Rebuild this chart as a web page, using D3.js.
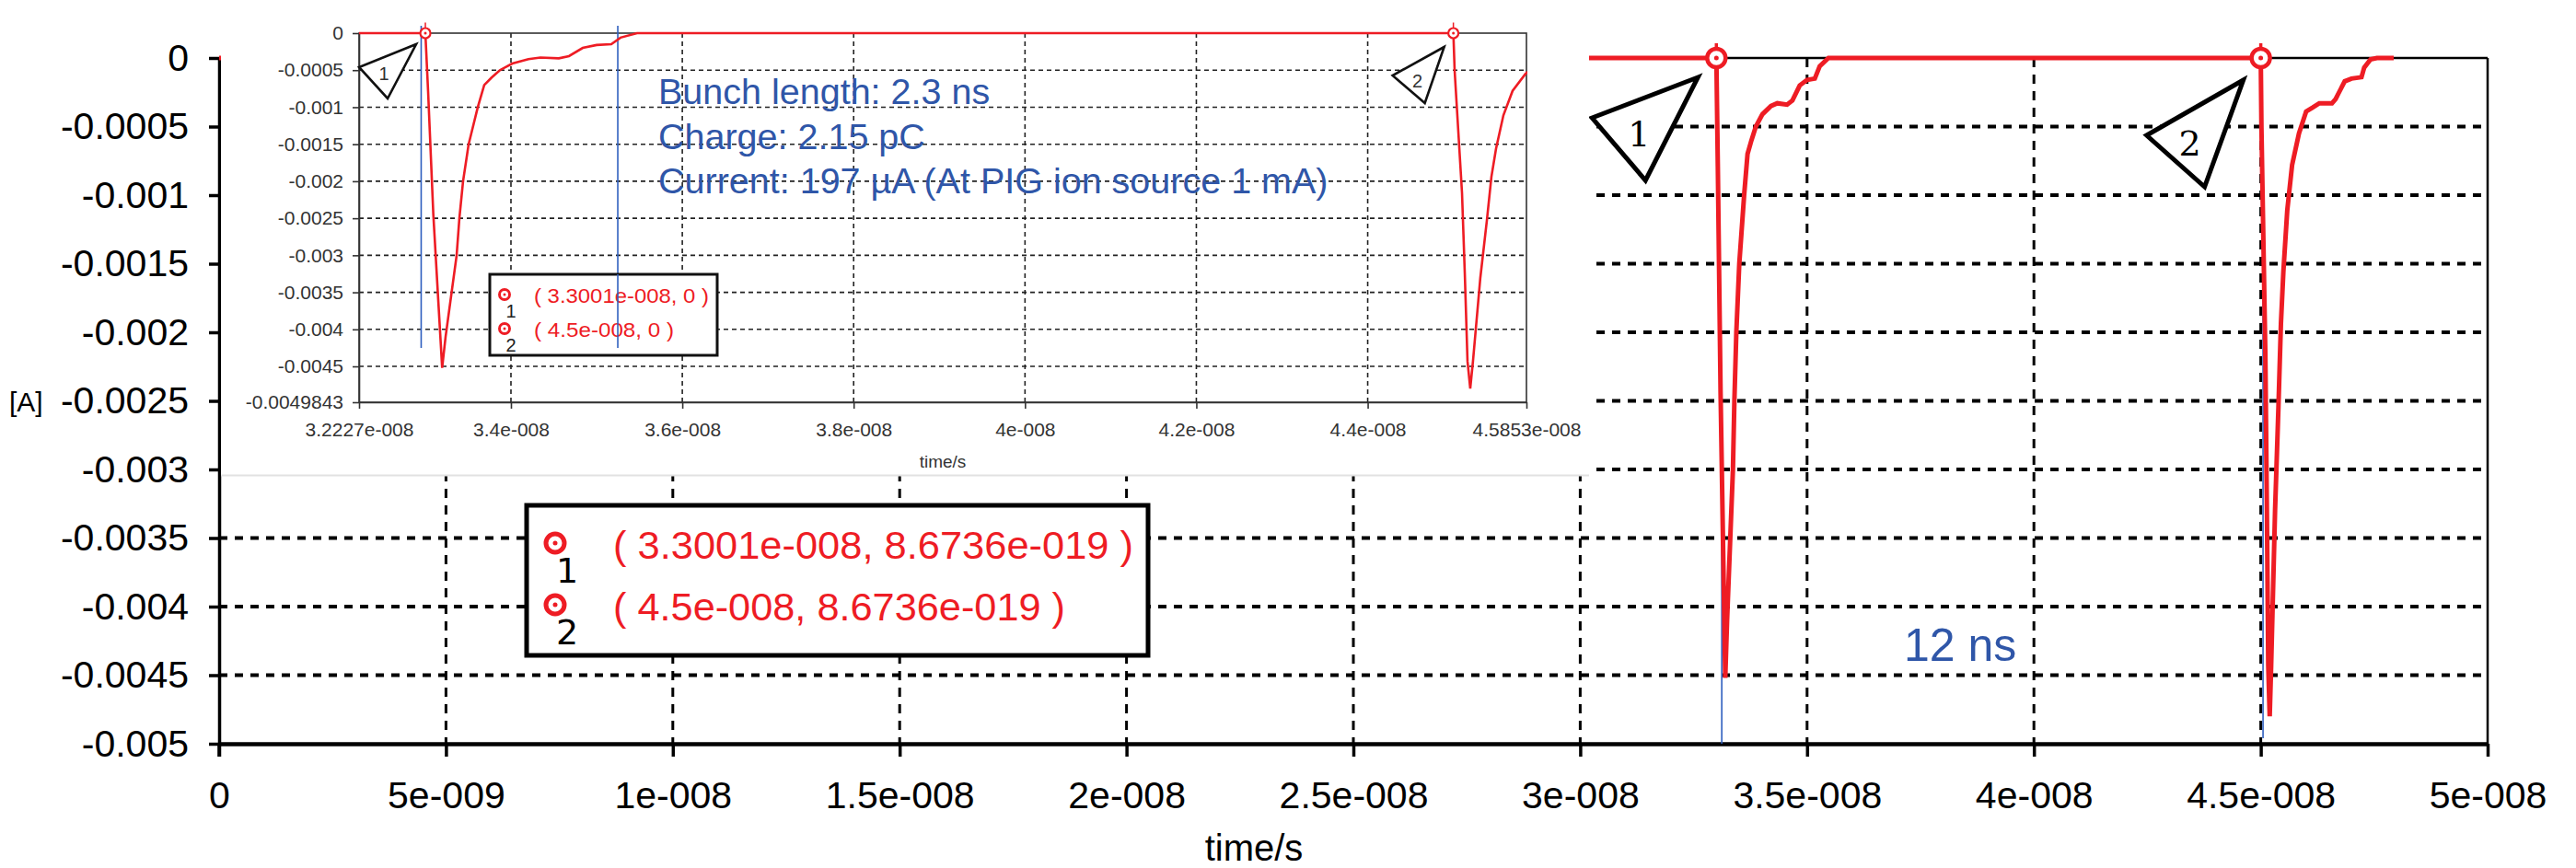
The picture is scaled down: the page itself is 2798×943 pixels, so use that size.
<!DOCTYPE html>
<html><head><meta charset="utf-8">
<script src="https://cdn.jsdelivr.net/npm/d3@7/dist/d3.min.js"></script>
<style>
body{margin:0;background:#fff}
svg{display:block;font-family:"Liberation Sans",Arial,sans-serif}
</style>
</head><body>
<svg id="chart" width="2798" height="943"></svg>
<script>
// ---------------- data ----------------
const timeS = [0, 3.3001e-8, 3.3033e-8, 3.3094e-8, 3.3156e-8, 3.3197e-8, 3.3237e-8, 3.3366e-8, 3.3398e-8,
  3.3441e-8, 3.3506e-8, 3.3613e-8, 3.3688e-8, 3.3774e-8, 3.3871e-8, 3.4016e-8, 3.4204e-8, 3.4344e-8,
  3.4559e-8, 3.4677e-8, 3.4838e-8, 3.5000e-8, 3.5171e-8, 3.5279e-8, 3.5472e-8,
  4.5000e-8, 4.5015e-8, 4.5101e-8, 4.5133e-8, 4.5165e-8, 4.5197e-8, 4.5229e-8, 4.5315e-8, 4.5390e-8,
  4.5444e-8, 4.5498e-8, 4.5584e-8, 4.5691e-8, 4.5842e-8, 4.6000e-8, 4.6150e-8, 4.6290e-8, 4.6570e-8,
  4.6650e-8, 4.6710e-8, 4.6850e-8, 4.7000e-8, 4.7220e-8, 4.7280e-8, 4.7420e-8, 4.7560e-8, 4.7930e-8];
const currentA = [0, 0, -0.00079, -0.00245, -0.0037, -0.00452, -0.0041, -0.0030, -0.0025,
  -0.0020, -0.0015, -0.0010, -0.0007, -0.0006, -0.0005, -0.00041, -0.00035, -0.00033,
  -0.00034, -0.00031, -0.00020, -0.00016, -0.00015, -0.00006, 0,
  0, -0.00051, -0.00216, -0.00323, -0.00443, -0.00480, -0.00443, -0.0033, -0.00254,
  -0.00194, -0.00156, -0.00111, -0.00078, -0.00055, -0.00039, -0.00036, -0.00033, -0.00033,
  -0.00030, -0.00026, -0.00017, -0.00015, -0.00014, -0.00007, -0.00001, 0, 0];

const mainXTicks = [0, 5e-9, 1e-8, 1.5e-8, 2e-8, 2.5e-8, 3e-8, 3.5e-8, 4e-8, 4.5e-8, 5e-8];
const mainXTickLabels = ["0","5e-009","1e-008","1.5e-008","2e-008","2.5e-008","3e-008","3.5e-008","4e-008","4.5e-008","5e-008"];
const mainYTicks = [0,-0.0005,-0.001,-0.0015,-0.002,-0.0025,-0.003,-0.0035,-0.004,-0.0045,-0.005];
const mainYTickLabels = ["0","-0.0005","-0.001","-0.0015","-0.002","-0.0025","-0.003","-0.0035","-0.004","-0.0045","-0.005"];

const insetXTicks = [3.2227e-8, 3.4e-8, 3.6e-8, 3.8e-8, 4e-8, 4.2e-8, 4.4e-8, 4.5853e-8];
const insetXTickLabels = ["3.2227e-008","3.4e-008","3.6e-008","3.8e-008","4e-008","4.2e-008","4.4e-008","4.5853e-008"];
const insetYTicks = [0,-0.0005,-0.001,-0.0015,-0.002,-0.0025,-0.003,-0.0035,-0.004,-0.0045,-0.0049843];
const insetYTickLabels = ["0","-0.0005","-0.001","-0.0015","-0.002","-0.0025","-0.003","-0.0035","-0.004","-0.0045","-0.0049843"];

const markerTimes = [3.3001e-8, 4.5e-8];
const markerValues = [8.6736e-19, 8.6736e-19];
const markerNames = ["1", "2"];
const mainLegendLabels = ["( 3.3001e-008, 8.6736e-019 )", "( 4.5e-008, 8.6736e-019 )"];
const insetLegendLabels = ["( 3.3001e-008, 0 )", "( 4.5e-008, 0 )"];

const bunchLineTimes = [3.2952e-8, 3.5247e-8];       // inset cursor lines (2.3 ns)
const bunchLineRange = [0.0001, -0.00425];
const periodLineTimes = [3.312e-8, 4.505e-8];        // main cursor lines (12 ns)
const periodLineTop = [-0.00254, -0.00168];
const periodLineBottom = [-0.005, -0.00496];

const infoLines = ["Bunch length: 2.3 ns", "Charge: 2.15 pC", "Current: 197 \u00b5A (At PIG ion source 1 mA)"];
const periodLabel = "12 ns";

// ---------------- setup ----------------
const RED = "#ee1c24", BLUE = "#2f56a8", LBLUE = "#2f5fbf";
const svg = d3.select("#chart");

const xMain = d3.scaleLinear().domain([0, 5e-8]).range([238, 2702]);
const yMain = d3.scaleLinear().domain([0, -0.005]).range([63, 808]);
const xIn = d3.scaleLinear().domain([3.2227e-8, 4.5853e-8]).range([390, 1658]);
const yIn = d3.scaleLinear().domain([0, -0.0049843]).range([36, 437]);

const series = timeS.map((t, i) => ({t, v: currentA[i]}));

// ================= MAIN CHART =================
const main = svg.append("g");

// grid
main.append("g").selectAll("line").data(mainYTicks.slice(1, -1)).join("line")
  .attr("x1", xMain(0)).attr("x2", xMain(5e-8))
  .attr("y1", d => yMain(d)).attr("y2", d => yMain(d))
  .attr("stroke", "#000").attr("stroke-width", 4).attr("stroke-dasharray", "9,8");
main.append("g").selectAll("line").data(mainXTicks.slice(1, -1)).join("line")
  .attr("x1", d => xMain(d)).attr("x2", d => xMain(d))
  .attr("y1", yMain(0)).attr("y2", yMain(-0.005))
  .attr("stroke", "#000").attr("stroke-width", 3).attr("stroke-dasharray", "10,8");

// frame (top / right)
main.append("line").attr("x1", xMain(0)).attr("x2", xMain(5e-8)).attr("y1", yMain(0)).attr("y2", yMain(0))
  .attr("stroke", "#000").attr("stroke-width", 2.5);
main.append("line").attr("x1", xMain(5e-8)).attr("x2", xMain(5e-8)).attr("y1", yMain(0)).attr("y2", yMain(-0.005))
  .attr("stroke", "#000").attr("stroke-width", 2.5);

// axes
const xAxisMain = d3.axisBottom(xMain).tickValues(mainXTicks)
  .tickFormat((d, i) => mainXTickLabels[i]).tickSize(14).tickSizeOuter(0).tickPadding(27);
const gx = main.append("g").attr("transform", `translate(0,${yMain(-0.005)})`).call(xAxisMain);
gx.select(".domain").attr("stroke", "#000").attr("stroke-width", 4.5);
gx.selectAll(".tick line").attr("stroke", "#000").attr("stroke-width", 3.5);
gx.selectAll(".tick text").attr("font-size", 41).attr("fill", "#000")
  .attr("font-family", "Liberation Sans, Arial, sans-serif");

const yAxisMain = d3.axisLeft(yMain).tickValues(mainYTicks)
  .tickFormat((d, i) => mainYTickLabels[i]).tickSize(11).tickSizeOuter(0).tickPadding(22);
const gy = main.append("g").attr("transform", `translate(${xMain(0)},0)`).call(yAxisMain);
gy.select(".domain").attr("stroke", "#000").attr("stroke-width", 3.5);
gy.selectAll(".tick line").attr("stroke", "#000").attr("stroke-width", 3.5);
gy.selectAll(".tick text").attr("font-size", 41).attr("fill", "#000")
  .attr("font-family", "Liberation Sans, Arial, sans-serif");
main.append("line").attr("x1", xMain(0)).attr("x2", xMain(0)).attr("y1", yMain(-0.005)).attr("y2", yMain(-0.005) + 14)
  .attr("stroke", "#000").attr("stroke-width", 3.5);

main.append("text").attr("x", 10).attr("y", yMain(-0.0025) + 11).attr("font-size", 30).text("[A]");
main.append("text").attr("x", 1362).attr("y", 935).attr("text-anchor", "middle").attr("font-size", 40).text("time/s");

// cursor lines (12 ns)
main.append("g").selectAll("line").data(periodLineTimes).join("line")
  .attr("x1", d => xMain(d)).attr("x2", d => xMain(d))
  .attr("y1", (d, i) => yMain(periodLineTop[i])).attr("y2", (d, i) => yMain(periodLineBottom[i]))
  .attr("stroke", LBLUE).attr("stroke-width", 1.6);

// curve
const lineMain = d3.line().x(d => xMain(d.t)).y(d => yMain(d.v));
main.append("path").datum(series).attr("d", lineMain)
  .attr("fill", "none").attr("stroke", RED).attr("stroke-width", 5).attr("stroke-linejoin", "miter");

// triangles (offsets relative to markers)
const triMain = [
  {pts: [[-20, 21], [-135, 65], [-77, 133]], lab: [-84, 96]},
  {pts: [[-19, 24], [-124, 84], [-61, 140]], lab: [-77, 106]}
];
markerTimes.forEach((t, i) => {
  const mx = xMain(t), my = yMain(markerValues[i]);
  const tr = triMain[i];
  main.append("path").attr("d", "M" + tr.pts.map(p => [mx + p[0], my + p[1]].join(",")).join("L") + "Z")
    .attr("fill", "#fff").attr("stroke", "#000").attr("stroke-width", 5).attr("stroke-linejoin", "miter");
  main.append("text").attr("x", mx + tr.lab[0]).attr("y", my + tr.lab[1]).attr("text-anchor", "middle")
    .attr("font-family", "DejaVu Serif, serif").attr("font-size", 38).text(markerNames[i]);
});

// markers
function marker(g, x, y, r, sw, dot) {
  g.append("line").attr("x1", x).attr("x2", x).attr("y1", y - r - 6).attr("y2", y - r)
    .attr("stroke", RED).attr("stroke-width", Math.max(1.5, sw - 1));
  g.append("circle").attr("cx", x).attr("cy", y).attr("r", r)
    .attr("fill", "#fff").attr("stroke", RED).attr("stroke-width", sw);
  g.append("circle").attr("cx", x).attr("cy", y).attr("r", dot).attr("fill", RED);
}
markerTimes.forEach((t, i) => marker(main, xMain(t), yMain(markerValues[i]), 10, 4.5, 2.5));

// legend (main)
const lg = main.append("g");
lg.append("rect").attr("x", 572).attr("y", 549).attr("width", 675).attr("height", 163)
  .attr("fill", "#fff").attr("stroke", "#000").attr("stroke-width", 5);
mainLegendLabels.forEach((s, i) => {
  const cy = 590 + i * 67;
  const g = lg.append("g");
  g.append("circle").attr("cx", 603).attr("cy", cy).attr("r", 10).attr("fill", "#fff").attr("stroke", RED).attr("stroke-width", 5);
  g.append("circle").attr("cx", 603).attr("cy", cy).attr("r", 2.5).attr("fill", RED);
  g.append("text").attr("x", 616).attr("y", cy + 43).attr("text-anchor", "middle")
    .attr("font-family", "DejaVu Sans, sans-serif").attr("font-size", 38).text(markerNames[i]);
  g.append("text").attr("x", 666).attr("y", cy + 17).attr("font-size", 42).attr("fill", RED)
    .attr("textLength", i === 0 ? 565 : 491).attr("lengthAdjust", "spacingAndGlyphs").text(s);
});

// 12 ns label
main.append("text").attr("x", 2068).attr("y", 718).attr("font-size", 50).attr("fill", BLUE).text(periodLabel);

// ================= INSET =================
const ins = svg.append("g");
ins.append("rect").attr("x", 240).attr("y", 0).attr("width", 1486).attr("height", 516).attr("fill", "#fff");
ins.append("line").attr("x1", 240).attr("x2", 1726).attr("y1", 516.5).attr("y2", 516.5)
  .attr("stroke", "#e2e2e2").attr("stroke-width", 2);

const GRAYTXT = "#333";
// grid
ins.append("g").selectAll("line").data(insetYTicks.slice(1, -1)).join("line")
  .attr("x1", xIn.range()[0]).attr("x2", xIn.range()[1])
  .attr("y1", d => yIn(d)).attr("y2", d => yIn(d))
  .attr("stroke", "#222").attr("stroke-width", 1.6).attr("stroke-dasharray", "5,4");
ins.append("g").selectAll("line").data(insetXTicks.slice(1, -1)).join("line")
  .attr("x1", d => xIn(d)).attr("x2", d => xIn(d))
  .attr("y1", yIn(0)).attr("y2", yIn(-0.0049843))
  .attr("stroke", "#222").attr("stroke-width", 1.6).attr("stroke-dasharray", "5,4");

// frame
ins.append("rect").attr("x", xIn.range()[0]).attr("y", yIn(0))
  .attr("width", xIn.range()[1] - xIn.range()[0]).attr("height", yIn(-0.0049843) - yIn(0))
  .attr("fill", "none").attr("stroke", "#333").attr("stroke-width", 1.6);

const xAxisIn = d3.axisBottom(xIn).tickValues(insetXTicks)
  .tickFormat((d, i) => insetXTickLabels[i]).tickSize(7).tickSizeOuter(0).tickPadding(15);
const gxi = ins.append("g").attr("transform", `translate(0,${yIn(-0.0049843)})`).call(xAxisIn);
gxi.select(".domain").attr("stroke", "#333").attr("stroke-width", 1.6);
gxi.selectAll(".tick line").attr("stroke", "#333").attr("stroke-width", 1.6);
gxi.selectAll(".tick text").attr("font-size", 21).attr("fill", GRAYTXT)
  .attr("font-family", "Liberation Sans, Arial, sans-serif");

const yAxisIn = d3.axisLeft(yIn).tickValues(insetYTicks)
  .tickFormat((d, i) => insetYTickLabels[i]).tickSize(7).tickSizeOuter(0).tickPadding(10);
const gyi = ins.append("g").attr("transform", `translate(${xIn.range()[0]},0)`).call(yAxisIn);
gyi.select(".domain").attr("stroke", "#333").attr("stroke-width", 1.6);
gyi.selectAll(".tick line").attr("stroke", "#333").attr("stroke-width", 1.6);
gyi.selectAll(".tick text").attr("font-size", 21).attr("fill", GRAYTXT)
  .attr("font-family", "Liberation Sans, Arial, sans-serif");

ins.append("text").attr("x", (xIn.range()[0] + xIn.range()[1]) / 2).attr("y", 508)
  .attr("text-anchor", "middle").attr("font-size", 19).attr("fill", GRAYTXT).text("time/s");

// clip
svg.append("defs").append("clipPath").attr("id", "insClip").append("rect")
  .attr("x", xIn.range()[0]).attr("y", 20).attr("width", xIn.range()[1] - xIn.range()[0] + 1).attr("height", 430);

// cursor lines (bunch)
ins.append("g").selectAll("line").data(bunchLineTimes).join("line")
  .attr("x1", d => xIn(d)).attr("x2", d => xIn(d))
  .attr("y1", yIn(bunchLineRange[0])).attr("y2", yIn(bunchLineRange[1]))
  .attr("stroke", LBLUE).attr("stroke-width", 1.6);

// curve
const lineIn = d3.line().x(d => xIn(d.t)).y(d => yIn(d.v));
ins.append("path").datum(series).attr("d", lineIn).attr("clip-path", "url(#insClip)")
  .attr("fill", "none").attr("stroke", RED).attr("stroke-width", 2.6);

// triangles
const triIn = [
  {pts: [[-10, 12], [-72, 37], [-41, 71]], lab: [-45, 51]},
  {pts: [[-10, 15], [-66, 46], [-31, 76]], lab: [-39, 59]}
];
markerTimes.forEach((t, i) => {
  const mx = xIn(t), my = yIn(0);
  const tr = triIn[i];
  ins.append("path").attr("d", "M" + tr.pts.map(p => [mx + p[0], my + p[1]].join(",")).join("L") + "Z")
    .attr("fill", "#fff").attr("stroke", "#111").attr("stroke-width", 2.6);
  ins.append("text").attr("x", mx + tr.lab[0]).attr("y", my + tr.lab[1]).attr("text-anchor", "middle")
    .attr("font-size", 20).attr("fill", GRAYTXT).text(markerNames[i]);
});
markerTimes.forEach((t, i) => marker(ins, xIn(t), yIn(0), 5.5, 2.2, 1.5));

// inset legend
const lgi = ins.append("g");
lgi.append("rect").attr("x", 532).attr("y", 298).attr("width", 247).attr("height", 88)
  .attr("fill", "#fff").attr("stroke", "#111").attr("stroke-width", 3);
insetLegendLabels.forEach((s, i) => {
  const cy = 320 + i * 37;
  lgi.append("circle").attr("cx", 548).attr("cy", cy).attr("r", 5.5).attr("fill", "#fff").attr("stroke", RED).attr("stroke-width", 3);
  lgi.append("circle").attr("cx", 548).attr("cy", cy).attr("r", 1.5).attr("fill", RED);
  lgi.append("text").attr("x", 555).attr("y", cy + 25).attr("text-anchor", "middle")
    .attr("font-size", 20).attr("fill", "#222").text(markerNames[i]);
  lgi.append("text").attr("x", 580).attr("y", cy + 9).attr("font-size", 22).attr("fill", RED)
    .attr("textLength", i === 0 ? 190 : 152).attr("lengthAdjust", "spacingAndGlyphs").text(s);
});
// redraw second cursor line on top of legend (as in original)
ins.append("line").attr("x1", xIn(bunchLineTimes[1])).attr("x2", xIn(bunchLineTimes[1]))
  .attr("y1", 298).attr("y2", yIn(bunchLineRange[1]))
  .attr("stroke", LBLUE).attr("stroke-width", 1.6);

// info text
ins.append("g").selectAll("text").data(infoLines).join("text")
  .attr("x", 715).attr("y", (d, i) => 113 + i * 48.5)
  .attr("font-size", 39.5).attr("fill", BLUE).text(d => d);
</script>
</body></html>
